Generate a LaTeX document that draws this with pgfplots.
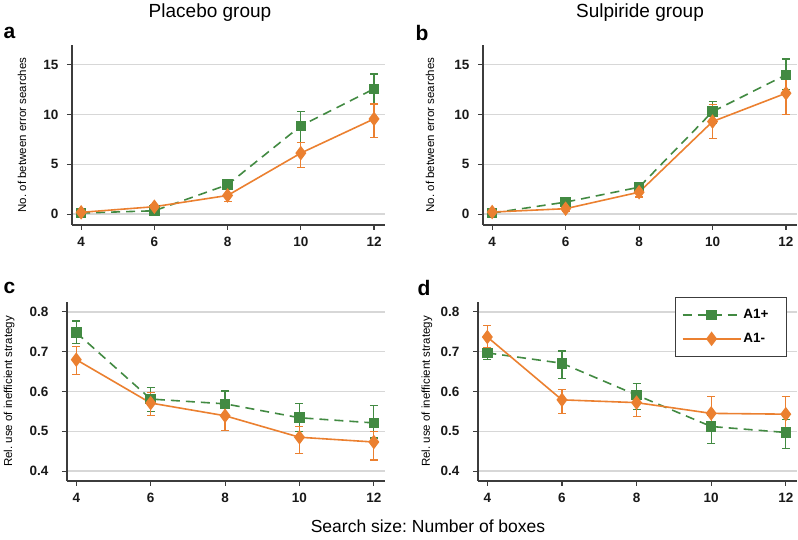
\documentclass[border=0pt]{standalone}
\usepackage{fontspec}
\setmainfont{Liberation Sans}
\usepackage{pgfplots}
\pgfplotsset{compat=1.18}
\definecolor{mygreen}{RGB}{66,138,66}
\definecolor{myorange}{RGB}{235,128,48}
\definecolor{axisgray}{RGB}{60,60,60}
\definecolor{gridgray}{RGB}{215,215,215}
\pgfplotsset{
 panel/.style={
  scale only axis, anchor=south west,
  xmin=3.75, xmax=12.3, xtick={4,6,8,10,12},
  axis lines=left, axis line style={-, draw=axisgray, line width=1.3pt},
  tick align=outside, major tick length=5pt,
  tick style={draw=axisgray, line width=1.1pt},
  ymajorgrids, grid style={draw=gridgray, line width=1.2pt},
  tick label style={font=\fontsize{13.5}{14}\selectfont\bfseries, text=black!90},
  xticklabel shift={4pt},
  ylabel style={font=\fontsize{11.5}{12}\selectfont, rotate=0, anchor=center},
  /pgf/number format/assume math mode=true,
  clip=false,
 },
 gser/.style={draw=mygreen, line width=1.6pt, dash pattern=on 9pt off 6pt,
   mark=square*, mark size=4.5pt, mark options={solid, fill=mygreen, draw=mygreen},
   error bars/.cd, y dir=both, y explicit,
   error bar style={line width=1.3pt, solid, mygreen},
   error mark options={rotate=90, mark size=4pt, line width=1.3pt, mygreen, solid}},
 oser/.style={draw=myorange, line width=1.6pt, solid,
   mark=diamond*, mark size=6pt, mark options={solid, fill=myorange, draw=myorange},
   error bars/.cd, y dir=both, y explicit,
   error bar style={line width=1.3pt, solid, myorange},
   error mark options={rotate=90, mark size=4pt, line width=1.3pt, myorange, solid}},
}
\begin{document}
\frenchspacing
\begin{tikzpicture}
\path (0pt,0pt) rectangle (798pt,540pt);
% titles and letters
\node[font=\fontsize{19}{20}\selectfont] at (210pt,527pt) {Placebo group};
\node[font=\fontsize{19}{20}\selectfont] at (640pt,527pt) {Sulpiride group};
\node[font=\fontsize{21}{21}\selectfont\bfseries, anchor=west] at (0pt,507pt) {a};
\node[font=\fontsize{21}{21}\selectfont\bfseries, anchor=west] at (412pt,507pt) {b};
\node[font=\fontsize{21}{21}\selectfont\bfseries, anchor=west] at (0pt,252pt) {c};
\node[font=\fontsize{21}{21}\selectfont\bfseries, anchor=west] at (414pt,252pt) {d};
\node[font=\fontsize{17.5}{18}\selectfont] at (428pt,14pt) {Search size: Number of boxes};

% panel a
\begin{axis}[panel, at={(72pt,315pt)}, width=313pt, height=180pt,
  ymin=-1.1, ymax=17, ytick={0,5,10,15}, yticklabel shift={5pt},
  ylabel={No. of between error searches},
  ylabel style={at={(axis description cs:-0.16,0.5)}}]
\addplot[gser] coordinates {
 (4,0.1) += (0,0.2) -= (0,0.2)
 (6,0.33) += (0,0.2) -= (0,0.2)
 (8,2.95) += (0,0.35) -= (0,0.35)
 (10,8.87) += (0,1.43) -= (0,1.64)
 (12,12.59) += (0,1.5) -= (0,1.51)
};
\addplot[oser] coordinates {
 (4,0.17) += (0,0.15) -= (0,0.15)
 (6,0.74) += (0,0.2) -= (0,0.2)
 (8,1.87) += (0,0.67) -= (0,0.6)
 (10,6.13) += (0,1.1) -= (0,1.44)
 (12,9.57) += (0,1.51) -= (0,1.84)
};
\end{axis}

% panel b
\begin{axis}[panel, at={(483pt,315pt)}, width=314pt, height=180pt,
  ymin=-1.1, ymax=17, ytick={0,5,10,15}, yticklabel shift={5pt},
  ylabel={No. of between error searches},
  ylabel style={at={(axis description cs:-0.169,0.5)}}]
\addplot[gser] coordinates {
 (4,0.1) += (0,0.2) -= (0,0.2)
 (6,1.2) += (0,0.25) -= (0,0.25)
 (8,2.7) += (0,0.3) -= (0,0.3)
 (10,10.3) += (0,1.0) -= (0,1.2)
 (12,14.0) += (0,1.6) -= (0,1.5)
};
\addplot[oser] coordinates {
 (4,0.2) += (0,0.2) -= (0,0.2)
 (6,0.54) += (0,0.3) -= (0,0.3)
 (8,2.2) += (0,0.5) -= (0,0.5)
 (10,9.3) += (0,1.7) -= (0,1.67)
 (12,12.15) += (0,1.75) -= (0,2.17)
};
\end{axis}

% panel c
\begin{axis}[panel, at={(67pt,59pt)}, width=318pt, height=179pt,
  ymin=0.375, ymax=0.825, ytick={0.4,0.5,0.6,0.7,0.8}, yticklabel shift={10pt},
  yticklabel style={/pgf/number format/fixed, /pgf/number format/precision=1, /pgf/number format/fixed zerofill},
  ylabel={Rel. use of inefficient strategy},
  ylabel style={at={(axis description cs:-0.182,0.5)}}]
\addplot[gser] coordinates {
 (4,0.748) += (0,0.029) -= (0,0.028)
 (6,0.581) += (0,0.029) -= (0,0.032)
 (8,0.569) += (0,0.032) -= (0,0.032)
 (10,0.534) += (0,0.036) -= (0,0.035)
 (12,0.521) += (0,0.043) -= (0,0.038)
};
\addplot[oser] coordinates {
 (4,0.680) += (0,0.034) -= (0,0.037)
 (6,0.571) += (0,0.026) -= (0,0.032)
 (8,0.539) += (0,0.025) -= (0,0.037)
 (10,0.485) += (0,0.027) -= (0,0.040)
 (12,0.473) += (0,0.026) -= (0,0.045)
};
\end{axis}

% panel d
\begin{axis}[panel, at={(478pt,59pt)}, width=319pt, height=179pt,
  ymin=0.375, ymax=0.825, ytick={0.4,0.5,0.6,0.7,0.8}, yticklabel shift={10pt},
  yticklabel style={/pgf/number format/fixed, /pgf/number format/precision=1, /pgf/number format/fixed zerofill},
  ylabel={Rel. use of inefficient strategy},
  ylabel style={at={(axis description cs:-0.16,0.5)}},
  legend style={at={(0.618,1.028)}, anchor=north west, draw=axisgray, line width=1.3pt,
    font=\fontsize{13.5}{14}\selectfont\bfseries, inner xsep=6pt, inner ysep=10pt, row sep=9pt,
    /tikz/every even column/.append style={column sep=2pt}},
  legend cell align=left,
  legend image code/.code={\draw[mark repeat=2, mark phase=2, #1] plot coordinates {(0pt,0pt) (29pt,0pt) (58pt,0pt)};}]
\addplot[gser] coordinates {
 (4,0.697) += (0,0.009) -= (0,0.016)
 (6,0.671) += (0,0.031) -= (0,0.038)
 (8,0.591) += (0,0.029) -= (0,0.037)
 (10,0.512) += (0,0.029) -= (0,0.042)
 (12,0.497) += (0,0.033) -= (0,0.041)
};
\addlegendentry{A1+\hspace*{10pt}}
\addplot[oser] coordinates {
 (4,0.737) += (0,0.029) -= (0,0.026)
 (6,0.579) += (0,0.026) -= (0,0.034)
 (8,0.572) += (0,0.025) -= (0,0.035)
 (10,0.545) += (0,0.042) -= (0,0.038)
 (12,0.543) += (0,0.045) -= (0,0.039)
};
\addlegendentry{A1-\hspace*{10pt}}
\end{axis}
\end{tikzpicture}
\end{document}
